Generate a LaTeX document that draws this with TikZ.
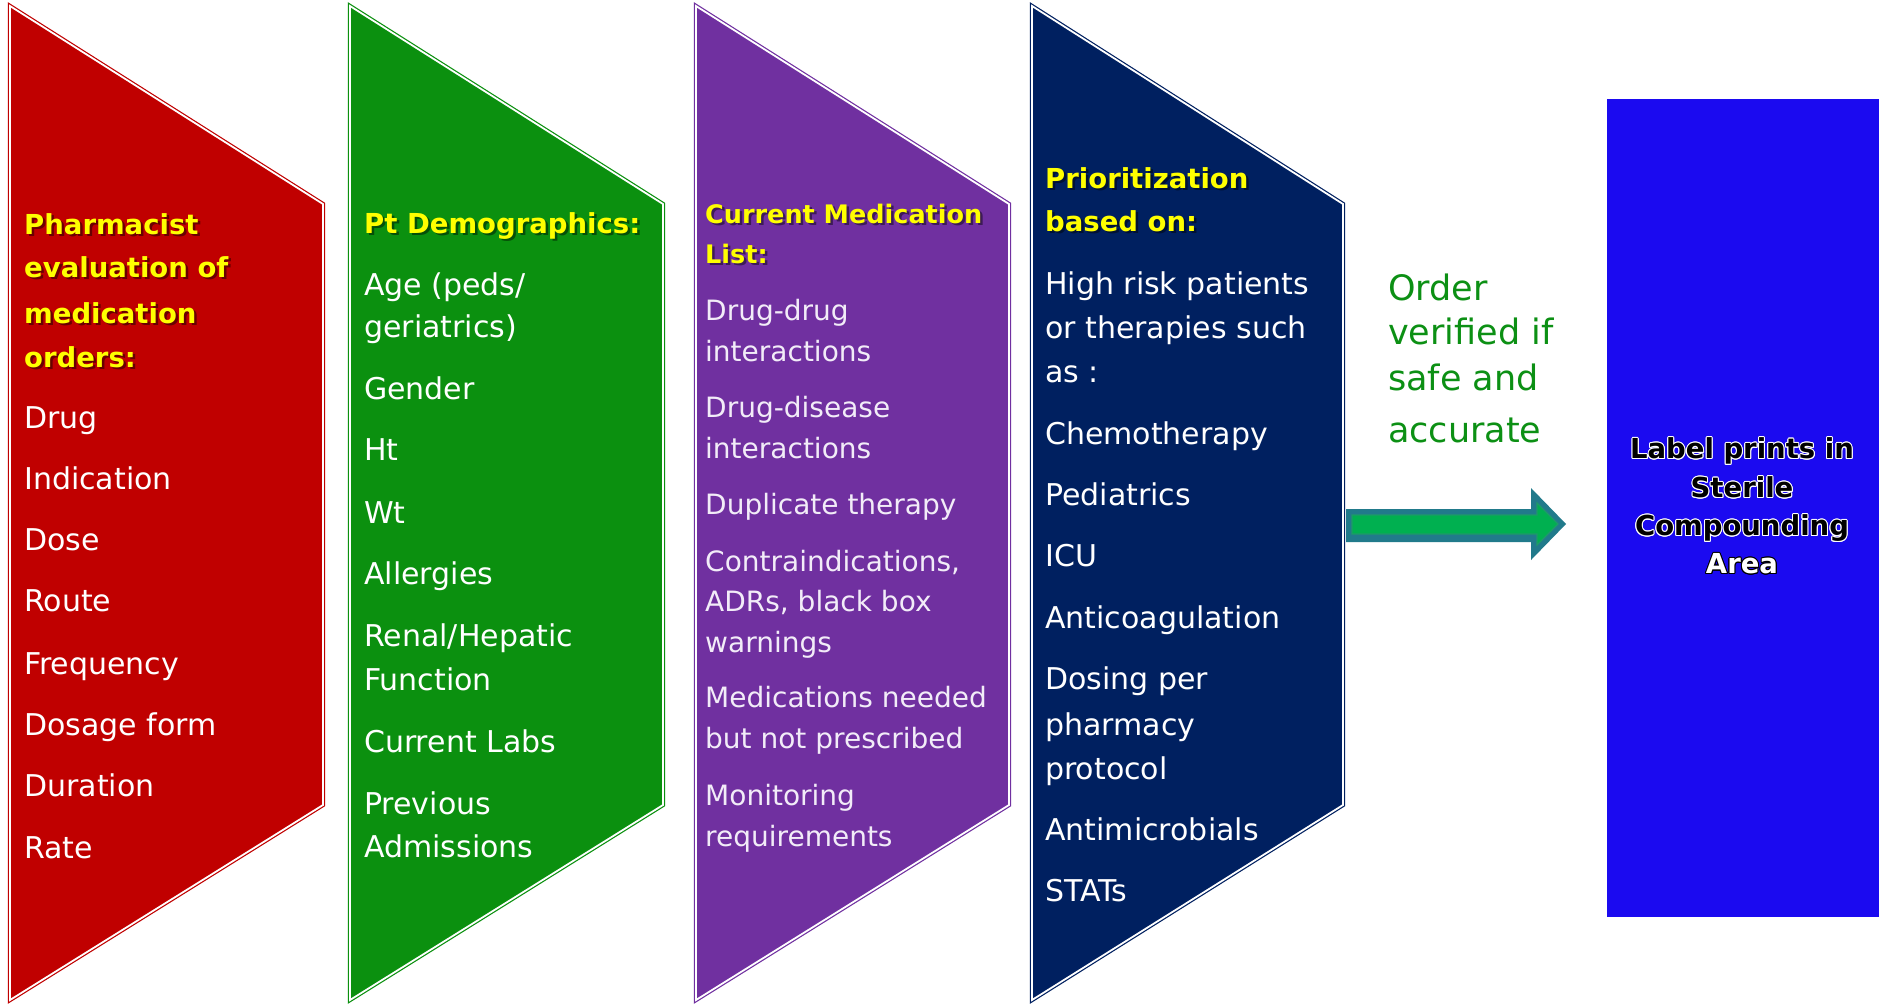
\documentclass[tikz,border=0pt]{standalone}
\usepackage{fontspec}
\setmainfont{DejaVu Sans}
\definecolor{cred}{HTML}{C00000}
\definecolor{cgreen}{HTML}{0B900F}
\definecolor{cpurple}{HTML}{7030A0}
\definecolor{cnavy}{HTML}{002060}
\definecolor{cblue}{HTML}{1B0AF0}
\definecolor{hdyellow}{HTML}{FFFF00}
\definecolor{arrteal}{HTML}{217A8B}
\definecolor{arrgreen}{HTML}{00B050}
\definecolor{arrline}{HTML}{1E9A6A}
\definecolor{ordgreen}{HTML}{0C9014}
\definecolor{pltext}{HTML}{F2ECF8}
\begin{document}
\begin{tikzpicture}[x=1pt,y=-1pt,
  panel/.style={fill=#1, draw=#1, double=white, double distance=1.8pt, line width=1.2pt, line join=miter},
  itm/.style={anchor=mid west, text=white, font=\fontsize{30}{36}\selectfont, inner sep=0pt, yshift=-8.5pt},
  pitm/.style={anchor=mid west, text=pltext, font=\fontsize{28}{34}\selectfont, inner sep=0pt, yshift=-8.5pt},
  hd/.style={anchor=mid west, text=hdyellow, font=\bfseries\fontsize{27.5}{33}\selectfont, inner sep=0pt, yshift=-8.5pt},
  phd/.style={hd, font=\bfseries\fontsize{25.5}{31}\selectfont},
  hdsh/.style={text=black, opacity=0.45},
  ord/.style={anchor=mid west, text=ordgreen, font=\fontsize{35}{42}\selectfont, inner sep=0pt, yshift=-9pt},
  lbl/.style={anchor=mid, font=\bfseries\fontsize{27.5}{34}\selectfont, inner sep=0pt, yshift=-8pt},
]
\useasboundingbox (0,0) rectangle (1879,1005);
\fill[white] (0,0) rectangle (1879,1005);

% panels
\path[panel=cred]    (10,6)   coordinate (redTL) -- (323,204) -- (323,805) -- (10,1000) -- cycle;
\path[panel=cgreen]  (350,6)  coordinate (grnTL) -- (663,204) -- (663,805) -- (350,1000) -- cycle;
\path[panel=cpurple] (696,6)  coordinate (purTL) -- (1009,204) -- (1009,805) -- (696,1000) -- cycle;
\path[panel=cnavy]   (1032,6) coordinate (navTL) -- (1343,204) coordinate (navR) -- (1343,805) -- (1032,1000) -- cycle;

% target box
\fill[cblue] (1607,99) coordinate (boxTL) rectangle (1879,917);

% block arrow
\path[fill=arrteal] (1346,509) coordinate (arrS) -- (1531,509) -- (1531,488) -- (1566,524) coordinate (arrT) -- (1531,560) -- (1531,542) -- (1346,542) -- cycle;
\path[fill=arrgreen, draw=arrline, line width=1.2pt] (1352,515) -- (1537,515) -- (1537,503) -- (1558,524) -- (1537,545) -- (1537,534) -- (1352,534) -- cycle;

% red column
\foreach \t/\y [count=\i] in {Pharmacist/223, evaluation of/266, medication/312, orders:/356}{
  \node[hd, hdsh] (rhs\i) at (26.5,\y+2.5) {\t};
  \node[hd] (rh\i) at (24,\y) {\t};
}
\foreach \t/\y [count=\i] in {Drug/417, Indication/478, Dose/539, Route/600, Frequency/663, Dosage form/724, Duration/785, Rate/847}{
  \node[itm] (ri\i) at (24,\y) {\t};
}

% green column
\node[hd, hdsh] (ghs) at (366.5,224.5) {Pt Demographics:};
\node[hd] (gh) at (364,222) {Pt Demographics:};
\foreach \t/\y [count=\i] in {{Age (peds/}/284, geriatrics)/326, Gender/388, Ht/449, Wt/512, Allergies/573, {Renal/Hepatic}/635, Function/679, Current Labs/741, Previous/803, Admissions/846}{
  \node[itm] (gi\i) at (364,\y) {\t};
}

% purple column
\foreach \t/\y [count=\i] in {Current Medication/212, List:/252}{
  \node[phd, hdsh] (phs\i) at (707.5,\y+2.5) {\t};
  \node[phd] (ph\i) at (705,\y) {\t};
}
\foreach \t/\y [count=\i] in {Drug-drug/309, interactions/350, Drug-disease/406, interactions/447, Duplicate therapy/503, {Contraindications,}/560, {ADRs, black box}/600, warnings/641, Medications needed/696, but not prescribed/737, Monitoring/794, requirements/835}{
  \node[pitm] (pi\i) at (705,\y) {\t};
}

% navy column
\foreach \t/\y [count=\i] in {Prioritization/177, based on:/220}{
  \node[hd, hdsh] (nhs\i) at (1047.5,\y+2.5) {\t};
  \node[hd] (nh\i) at (1045,\y) {\t};
}
\foreach \t/\y [count=\i] in {High risk patients/283, or therapies such/327, as :/371, Chemotherapy/433, Pediatrics/494, ICU/555, Anticoagulation/617, Dosing per/678, pharmacy/724, protocol/768, Antimicrobials/829, STATs/890}{
  \node[itm] (ni\i) at (1045,\y) {\t};
}

% arrow label
\foreach \t/\y [count=\i] in {Order/289, verified if/333, safe and/379, accurate/431}{
  \node[ord] (ol\i) at (1388,\y) {\t};
}

% box label (text with halo)
\foreach \t/\y/\fg/\bg [count=\i] in {Label prints in/448/black/white, Sterile/487/black/white, Compounding/525/black/white, Area/563/white/black}{
  \foreach \a [count=\j] in {0,30,...,330}{
    \node[lbl, text=\bg, shift={(\a:1.0)}] (bh\i-\j) at (1742,\y) {\t};
  }
  \node[lbl, text=\fg] (bl\i) at (1742,\y) {\t};
}
\end{tikzpicture}
\end{document}
